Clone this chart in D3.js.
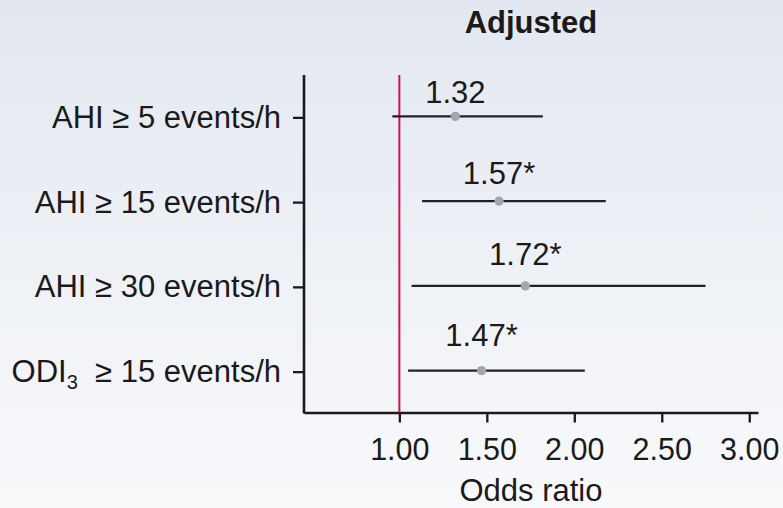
<!DOCTYPE html>
<html>
<head>
<meta charset="utf-8">
<script src="https://cdn.jsdelivr.net/npm/d3@7"></script>
<style>
  html, body { margin: 0; padding: 0; }
  svg { display: block; }
  text { font-family: "Liberation Sans", Arial, Helvetica, sans-serif; fill: #1a1a1a; }
</style>
</head>
<body>
<svg id="chart" width="783" height="508"></svg>
<script>
// ---- data ----
const categories = ["AHI ≥ 5 events/h", "AHI ≥ 15 events/h", "AHI ≥ 30 events/h", "ODI3 ≥ 15 events/h"];
const oddsRatios = [1.32, 1.57, 1.72, 1.47];
const ciLower   = [0.96, 1.13, 1.07, 1.05];
const ciUpper   = [1.82, 2.18, 2.75, 2.06];
const valueLabels = ["1.32", "1.57*", "1.72*", "1.47*"];
const xTicks = [1.00, 1.50, 2.00, 2.50, 3.00];
const title = "Adjusted";
const xTitle = "Odds ratio";
const referenceValue = 1.0;

const rows = categories.map((c, i) => ({
  cat: c, or: oddsRatios[i], lo: ciLower[i], hi: ciUpper[i], label: valueLabels[i]
}));

const svg = d3.select("#chart");
const W = 783, H = 508;

// background gradient
const defs = svg.append("defs");
const grad = defs.append("linearGradient").attr("id", "bg").attr("x1", 0).attr("y1", 0).attr("x2", 0).attr("y2", 1);
grad.append("stop").attr("offset", "0%").attr("stop-color", "#e3e8f0");
grad.append("stop").attr("offset", "100%").attr("stop-color", "#f8f9fb");
svg.append("rect").attr("width", W).attr("height", H).attr("fill", "url(#bg)");

// scales
const x = d3.scaleLinear().domain([0.455, 3.05]).range([304, 758]);
const y = d3.scalePoint().domain(categories).range([75, 414]).padding(0.5);
const labelY = d3.scalePoint().domain(categories).range([103, 346]);
const axisY = 412.5;

// title
svg.append("text")
  .attr("x", 531).attr("y", 33)
  .attr("text-anchor", "middle")
  .style("font-size", "31px").style("font-weight", "bold")
  .text(title);

// x axis
const xAxis = d3.axisBottom(x).tickValues(xTicks).tickFormat(d3.format(".2f"))
  .tickSizeOuter(0).tickSizeInner(10).tickPadding(16);
const gx = svg.append("g").attr("transform", `translate(0,${axisY})`).call(xAxis);
gx.select(".domain").attr("stroke", "#1a1a1a").attr("stroke-width", 2.6);
gx.selectAll(".tick line").attr("stroke", "#1a1a1a").attr("stroke-width", 2.3);
gx.selectAll(".tick text").style("font-size", "30.5px").attr("fill", "#1a1a1a")
  .attr("font-family", null);

// y axis
const yAxis = d3.axisLeft(y).tickSizeOuter(0).tickSizeInner(11).tickPadding(12).tickFormat(() => "");
const gy = svg.append("g").attr("transform", `translate(304,0)`).call(yAxis);
gy.select(".domain").attr("stroke", "#1a1a1a").attr("stroke-width", 2.6)
  .attr("d", `M0,${75}V${axisY + 1}`);
gy.selectAll(".tick line").attr("stroke", "#1a1a1a").attr("stroke-width", 2.3);
gy.selectAll(".tick text").attr("font-family", null).style("font-size", "31px").attr("fill", "#1a1a1a")
  .each(function(d) {
    const t = d3.select(this);
    t.text(null);
    if (d.startsWith("ODI")) {
      t.append("tspan").text("ODI");
      t.append("tspan").text("3").style("font-size", "20px").attr("dy", "7");
      t.append("tspan").text("\u00a0 ≥ 15 events/h").attr("dy", "-7");
    } else {
      t.text(d);
    }
  });

// reference line
svg.append("line")
  .attr("x1", x(referenceValue)).attr("x2", x(referenceValue))
  .attr("y1", 75).attr("y2", axisY)
  .attr("stroke", "#c8174c").attr("stroke-width", 2);

// CI lines
svg.selectAll(".ci").data(rows).join("line")
  .attr("class", "ci")
  .attr("x1", d => x(d.lo)).attr("x2", d => x(d.hi))
  .attr("y1", d => y(d.cat) - 1).attr("y2", d => y(d.cat) - 1)
  .attr("stroke", "#222").attr("stroke-width", 2.1);

// points
svg.selectAll(".pt").data(rows).join("circle")
  .attr("class", "pt")
  .attr("cx", d => x(d.or)).attr("cy", d => y(d.cat) - 1)
  .attr("r", 4.6).attr("fill", "#a3a7ad");

// value labels
svg.selectAll(".vl").data(rows).join("text")
  .attr("class", "vl")
  .attr("x", d => x(d.or)).attr("y", d => labelY(d.cat))
  .attr("text-anchor", "middle")
  .style("font-size", "31px")
  .text(d => d.label);

// x title
svg.append("text")
  .attr("x", 531).attr("y", 501)
  .attr("text-anchor", "middle")
  .style("font-size", "31px")
  .text(xTitle);
</script>
</body>
</html>
